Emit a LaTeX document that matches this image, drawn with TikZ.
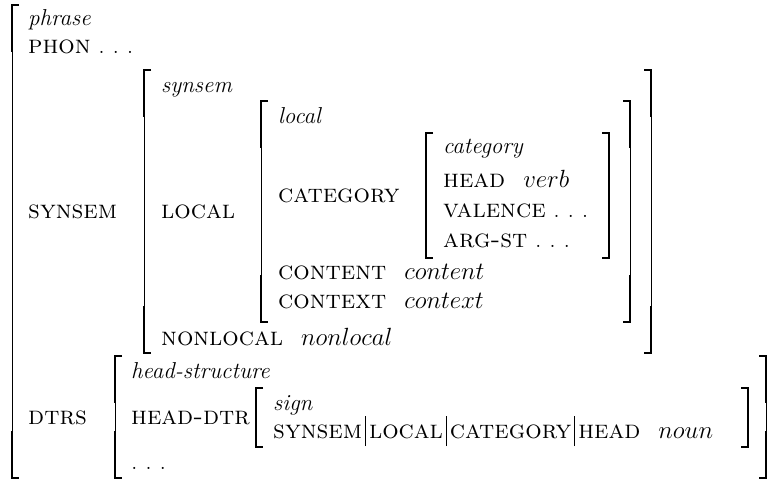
\documentclass[tikz,border=0pt]{standalone}
\newcommand\avmValue[1]{{\fontsize{25.8}{30}\selectfont$#1$}}
\newcommand\avmAttr[1]{\scalebox{2.58}{\fontsize{10}{12}\selectfont\scshape #1}}
\newcommand\avmPbar{\hspace{3pt}\rule[-8pt]{0.9pt}{30pt}\hspace{3pt}}
\newcommand\avmGap{\hspace{18pt}}
\newcommand\avmDots{.\hspace{0.3em}.\hspace{0.3em}.}
% left bracket: x, top, bottom, thick length, thick width
\newcommand\avmLB[5]{%
  \draw[brthin] (#1,#2) -- (#1,#3);
  \draw[line width=#5, line join=miter] (#1+7,#2) -- (#1,#2) -- (#1,#2+#4);
  \draw[line width=#5, line join=miter] (#1,#3-#4) -- (#1,#3) -- (#1+7,#3);}
\newcommand\avmRB[5]{%
  \draw[brthin] (#1,#2) -- (#1,#3);
  \draw[line width=#5, line join=miter] (#1-7,#2) -- (#1,#2) -- (#1,#2+#4);
  \draw[line width=#5, line join=miter] (#1,#3-#4) -- (#1,#3) -- (#1-7,#3);}
\begin{document}
\begin{tikzpicture}[x=1pt,y=-1pt,
  lab/.style={anchor=base west, inner sep=0pt, font=\fontsize{25.8}{30}\selectfont},
  typ/.style={anchor=base west, inner sep=0pt, font=\fontsize{23}{27}\selectfont\itshape},
  brthin/.style={line width=1pt}]
\useasboundingbox (0,0) rectangle (780,482);
% brackets
\avmLB{12}{5}{478}{47}{2pt}
\avmLB{144}{70}{353}{47}{2pt}
\avmRB{651}{70}{353}{47}{2pt}
\avmLB{261}{101}{322}{47}{2pt}
\avmRB{630}{101}{322}{47}{2pt}
\avmLB{426}{133}{258}{63}{2pt}
\avmRB{609}{133}{258}{63}{2pt}
\avmLB{115}{356}{478}{47}{2pt}
\avmRB{766}{356}{478}{47}{2pt}
\avmLB{256}{388}{447}{30}{1.3pt}
\avmRB{748}{388}{447}{30}{1.3pt}
% texts
\node[typ] (t-phrase) at (28,25) {phrase};
\node[lab] (a-phon) at (28,53) {\avmAttr{phon} \avmDots};
\node[lab] (a-synsem) at (28,218) {\avmAttr{synsem}};
\node[typ] (t-synsem) at (161,92) {synsem};
\node[lab] (a-local) at (161,218) {\avmAttr{local}};
\node[typ] (t-local) at (278,123) {local};
\node[lab] (a-cat) at (278,202) {\avmAttr{category}};
\node[typ] (t-cat) at (443,153) {category};
\node[lab] (a-head) at (443,187) {\avmAttr{head}\avmGap\avmValue{verb}};
\node[lab] (a-val) at (443,217) {\avmAttr{valence} \avmDots};
\node[lab] (a-arg) at (443,247) {\avmAttr{arg-st} \avmDots};
\node[lab] (a-cont) at (278,279) {\avmAttr{content}\avmGap\avmValue{content}};
\node[lab] (a-ctx) at (278,308) {\avmAttr{context}\avmGap\avmValue{context}};
\node[lab] (a-nonloc) at (161,345) {\avmAttr{nonlocal}\avmGap\avmValue{nonlocal}};
\node[lab] (a-dtrs) at (28,424) {\avmAttr{dtrs}};
\node[typ] (t-hs) at (131,378) {head-structure};
\node[lab] (a-hd) at (131,424) {\avmAttr{head-dtr}};
\node[typ] (t-sign) at (273,410) {sign};
\node[lab] (a-path) at (273,438) {\avmAttr{synsem}\avmPbar\avmAttr{local}\avmPbar\avmAttr{category}\avmPbar\avmAttr{head}\avmGap\avmValue{noun}};
\node[lab] (a-dots) at (131,469) {\avmDots};
\end{tikzpicture}
\end{document}
